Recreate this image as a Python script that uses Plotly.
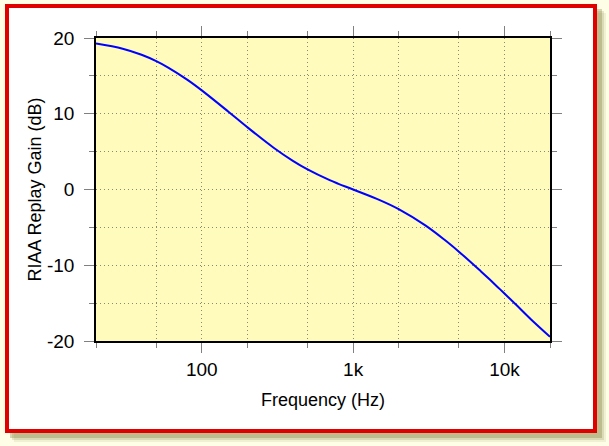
import math
import plotly.graph_objects as go

# RIAA replay gain (dB, normalised at 1 kHz)
freq_hz = [20, 30, 40, 50, 60, 80, 100, 150, 200, 300, 400, 500, 700, 800,
           1000, 1500, 2000, 3000, 4000, 5000, 6000, 7000, 8000, 9000,
           10000, 12000, 15000, 20000]
gain_db = [19.27, 18.59, 17.79, 16.95, 16.10, 14.51, 13.09, 10.27, 8.22,
           5.48, 3.78, 2.65, 1.23, 0.75, 0.00, -1.40, -2.59, -4.74, -6.61,
           -8.21, -9.60, -10.82, -11.89, -12.86, -13.73, -15.26, -17.16,
           -19.45]

x_major_ticks = [100, 1000, 10000]
x_major_labels = ["100", "1k", "10k"]
x_minor_ticks = [20, 50, 200, 500, 2000, 5000, 20000]
y_major_ticks = [-20, -10, 0, 10, 20]
y_major_labels = ["-20", "-10", "0", "10", "20"]
y_minor_ticks = [-15, -5, 5, 15]

W, H = 609, 446
L, R, T, B = 96, 550, 38, 341


def px(x):
    return (x - L) / (R - L)


def py(y):
    return (B - y) / (B - T)


fig = go.Figure()
fig.add_trace(go.Scatter(
    x=freq_hz, y=gain_db, mode="lines",
    line=dict(color="#0000ff", width=2, shape="spline"),
    hoverinfo="skip", showlegend=False,
))

grid_col = "#8a8a70"
tick_col = "#808080"
fam = "Liberation Sans, Arial, Helvetica, sans-serif"
tick_font = dict(family=fam, size=19, color="black")
title_font = dict(family=fam, size=18, color="black")

shapes = []
# soft shadow
for off, op in [(9, 0.10), (7, 0.18), (5, 0.30)]:
    shapes.append(dict(type="rect", xref="paper", yref="paper", layer="below",
                       x0=px(5 + off), x1=px(597 + off), y0=py(4 + off), y1=py(433 + off),
                       line=dict(width=0), fillcolor=f"rgba(120,120,50,{op})"))
# white card with red border
shapes.append(dict(type="rect", xref="paper", yref="paper", layer="below",
                   x0=px(7), x1=px(595), y0=py(6), y1=py(431),
                   line=dict(color="#e00000", width=4), fillcolor="white"))
# yellow plot area
shapes.append(dict(type="rect", xref="paper", yref="paper", layer="below",
                   x0=0, x1=1, y0=0, y1=1,
                   line=dict(width=0), fillcolor="#fffbbd"))

fig.update_layout(
    width=W, height=H,
    margin=dict(l=L, r=W - R, t=T, b=H - B, pad=0),
    paper_bgcolor="#fefee6",
    plot_bgcolor="rgba(0,0,0,0)",
    font=tick_font,
    shapes=shapes,
    xaxis=dict(
        type="log", range=[math.log10(20), math.log10(20000)],
        tickmode="array", tickvals=x_major_ticks, ticktext=x_major_labels,
        tickfont=tick_font,
        ticks="outside", ticklen=10, tickwidth=1, tickcolor=tick_col,
        showline=True, linecolor="black", linewidth=1.5, mirror="allticks",
        showgrid=True, gridcolor=grid_col, gridwidth=1, griddash="1px,3px",
        minor=dict(tickmode="array", tickvals=x_minor_ticks, ticks="outside",
                   ticklen=5, tickwidth=1, tickcolor=tick_col,
                   showgrid=True, gridcolor=grid_col, gridwidth=1, griddash="1px,3px"),
        zeroline=False, ticklabelstandoff=0,
        title=dict(text="Frequency (Hz)", font=title_font, standoff=15),
        automargin=False,
    ),
    yaxis=dict(
        range=[-20, 20],
        tickmode="array", tickvals=y_major_ticks, ticktext=y_major_labels,
        tickfont=tick_font,
        ticks="outside", ticklen=10, tickwidth=1, tickcolor=tick_col,
        showline=True, linecolor="black", linewidth=1.5, mirror="allticks",
        showgrid=True, gridcolor=grid_col, gridwidth=1, griddash="1px,3px",
        minor=dict(tickmode="array", tickvals=y_minor_ticks, ticks="outside",
                   ticklen=5, tickwidth=1, tickcolor=tick_col,
                   showgrid=True, gridcolor=grid_col, gridwidth=1, griddash="1px,3px"),
        zeroline=False, ticklabelstandoff=6,
        title=dict(text="RIAA Replay Gain (dB)", font=title_font, standoff=1),
        automargin=False,
    ),
)

fig.write_html("out.html")
